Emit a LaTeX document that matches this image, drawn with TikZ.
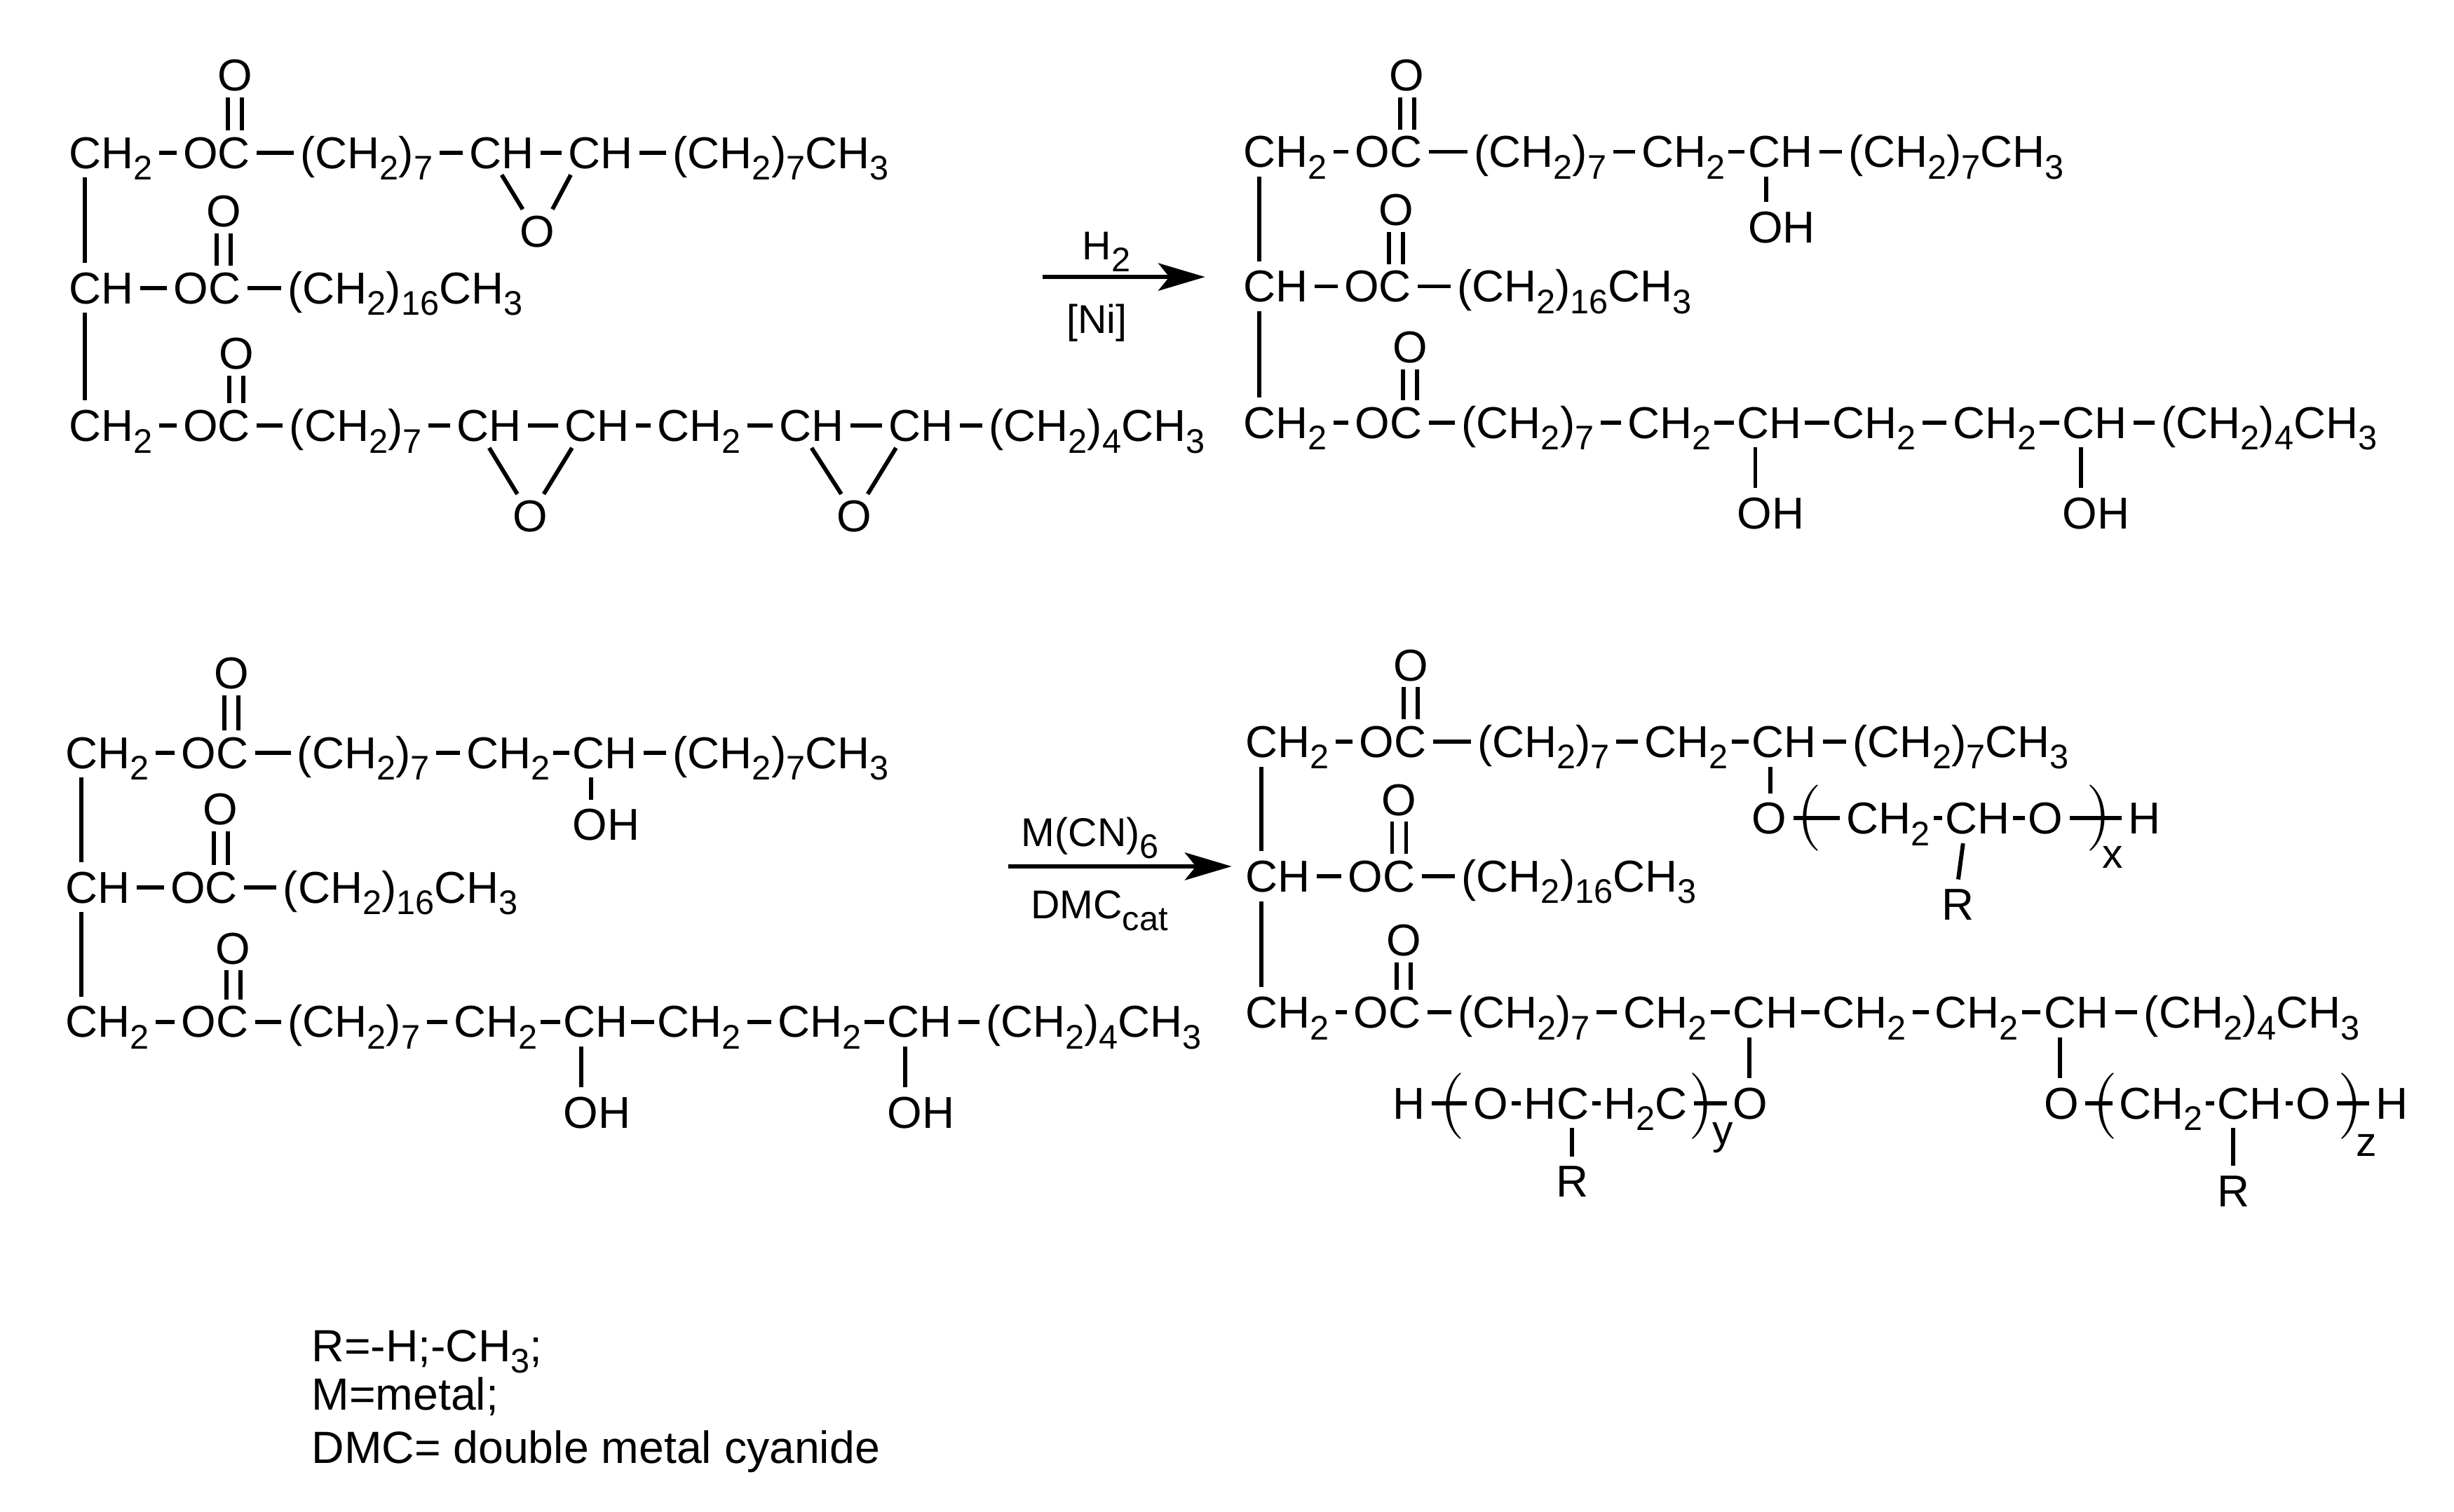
\documentclass[tikz,border=0pt]{standalone}
\usepackage{fontspec}
\setmainfont{Liberation Sans}
\usepackage{tikz}
\usetikzlibrary{arrows.meta}
\newcommand{\subn}[1]{\raisebox{-2.1pt}{\fontsize{6.2pt}{6.5pt}\selectfont #1}}
\tikzset{
    grp/.style={anchor=west, xshift=-1.5pt, inner sep=1pt, text height=5.7pt, text depth=0pt, font=\fontsize{8.12pt}{9.6pt}\selectfont},
    atm/.style={anchor=center, inner sep=1pt, text height=5.7pt, text depth=0pt, font=\fontsize{8.12pt}{9.6pt}\selectfont},
    lgd/.style={anchor=west, inner sep=0pt, text height=5.7pt, text depth=0pt, font=\fontsize{8.2pt}{9.6pt}\selectfont},
    subl/.style={anchor=center, inner sep=0pt, font=\fontsize{7.5pt}{9pt}\selectfont},
    paren/.style={anchor=center, inner sep=0pt, font=\fontsize{12pt}{14pt}\selectfont},
    reag/.style={anchor=west, inner sep=0pt, text height=5.2pt, text depth=0pt, font=\fontsize{7.3pt}{9pt}\selectfont},
    bond/.style={line width=0.75pt},
    hyph/.style={line width=0.75pt, shorten <=-0.6pt, shorten >=-0.6pt},
    vbond/.style={line width=0.75pt, shorten <=0.5pt, shorten >=0.5pt},
    dbond/.style={line width=0.75pt, double, double distance=1.8pt},
    rarrow/.style={line width=0.85pt, -{Stealth[length=8.5pt, width=5pt, inset=2pt]}},
}
\begin{document}
\begin{tikzpicture}[x=0.01cm, y=-0.01cm]
    \useasboundingbox (0, 0) rectangle (1568, 966);

    \node[grp] at (45, 97.5)  (a11) {CH\subn{2}};
    \node[grp] at (118, 97.5) (a12) {OC};
    \node[grp] at (193, 97.5) (a13) {(CH\subn{2})\subn{7}};
    \node[grp] at (301, 97.5) (a14) {CH};
    \node[grp] at (364, 97.5) (a15) {CH};
    \node[grp] at (431, 97.5) (a16) {(CH\subn{2})\subn{7}CH\subn{3}};
    \node[atm] at (150, 48)   (a1o) {O};
    \node[atm] at (343.5, 148) (a1p) {O};
    \node[grp] at (45, 184)   (a21) {CH};
    \node[grp] at (112, 184)  (a22) {OC};
    \node[grp] at (185, 184)  (a23) {(CH\subn{2})\subn{16}CH\subn{3}};
    \node[atm] at (143, 135)  (a2o) {O};
    \node[grp] at (45, 272)   (a31) {CH\subn{2}};
    \node[grp] at (118, 272)  (a32) {OC};
    \node[grp] at (186, 272)  (a33) {(CH\subn{2})\subn{7}};
    \node[grp] at (293, 272)  (a34) {CH};
    \node[grp] at (362, 272)  (a35) {CH};
    \node[grp] at (421, 272)  (a36) {CH\subn{2}};
    \node[grp] at (499, 272)  (a37) {CH};
    \node[grp] at (569, 272)  (a38) {CH};
    \node[grp] at (633, 272)  (a39) {(CH\subn{2})\subn{4}CH\subn{3}};
    \node[atm] at (151, 226)  (a3o) {O};
    \node[atm] at (339, 330)  (a3p) {O};
    \node[atm] at (546, 330)  (a3q) {O};

    \draw[bond] (a11) -- (a12);
    \draw[bond] (a12) -- (a13);
    \draw[bond] (a13) -- (a14);
    \draw[bond] (a14) -- (a15);
    \draw[bond] (a15) -- (a16);
    \draw[dbond] (a1o.south) -- (a1o.south |- a12.north);
    \draw[bond] (a14.south) -- ([xshift=-2.7pt]a1p.north);
    \draw[bond] ([xshift=1.7pt]a15.south west) -- ([xshift=2.7pt]a1p.north);
    \draw[bond] (a21) -- (a22);
    \draw[bond] (a22) -- (a23);
    \draw[dbond] (a2o.south) -- (a2o.south |- a22.north);
    \draw[bond] (a31) -- (a32);
    \draw[bond] (a32) -- (a33);
    \draw[bond] (a33) -- (a34);
    \draw[bond] (a34) -- (a35);
    \draw[bond] (a35) -- (a36);
    \draw[bond] (a36) -- (a37);
    \draw[bond] (a37) -- (a38);
    \draw[bond] (a38) -- (a39);
    \draw[dbond] (a3o.south) -- (a3o.south |- a32.north);
    \draw[bond] (a34.south) -- ([xshift=-2.4pt]a3p.north);
    \draw[bond] ([xshift=2.5pt]a35.south west) -- ([xshift=2.4pt]a3p.north);
    \draw[bond] (a37.south) -- ([xshift=-2.4pt]a3q.north);
    \draw[bond] ([xshift=2.5pt]a38.south west) -- ([xshift=2.4pt]a3q.north);
    \draw[vbond] ([xshift=4.1pt]a11.south west) -- ([xshift=4.1pt]a21.north west);
    \draw[vbond] ([xshift=4.1pt]a21.south west) -- ([xshift=4.1pt]a31.north west);

    \node[grp] at (795.5, 97)   (b11) {CH\subn{2}};
    \node[grp] at (867, 97)   (b12) {OC};
    \node[grp] at (943, 97)   (b13) {(CH\subn{2})\subn{7}};
    \node[grp] at (1050, 97)  (b14) {CH\subn{2}};
    \node[grp] at (1118, 97)  (b15) {CH};
    \node[grp] at (1182, 97)  (b16) {(CH\subn{2})\subn{7}CH\subn{3}};
    \node[atm] at (899, 48)   (b1o) {O};
    \node[grp] at (1118, 145) (b1h) {OH};
    \node[grp] at (795.5, 183)  (b21) {CH};
    \node[grp] at (860, 183)  (b22) {OC};
    \node[grp] at (932, 183)  (b23) {(CH\subn{2})\subn{16}CH\subn{3}};
    \node[atm] at (892, 134)  (b2o) {O};
    \node[grp] at (795.5, 270)  (b31) {CH\subn{2}};
    \node[grp] at (867, 270)  (b32) {OC};
    \node[grp] at (935, 270)  (b33) {(CH\subn{2})\subn{7}};
    \node[grp] at (1041, 270) (b34) {CH\subn{2}};
    \node[grp] at (1111, 270) (b35) {CH};
    \node[grp] at (1172, 270) (b36) {CH\subn{2}};
    \node[grp] at (1249, 270) (b37) {CH\subn{2}};
    \node[grp] at (1319, 270) (b38) {CH};
    \node[grp] at (1382, 270) (b39) {(CH\subn{2})\subn{4}CH\subn{3}};
    \node[atm] at (901, 222)  (b3o) {O};
    \node[grp] at (1111, 328) (b3h) {OH};
    \node[grp] at (1319, 328) (b3i) {OH};

    \draw[bond] (b11) -- (b12);
    \draw[bond] (b12) -- (b13);
    \draw[bond] (b13) -- (b14);
    \draw[hyph] (b14) -- (b15);
    \draw[bond] (b15) -- (b16);
    \draw[dbond] (b1o.south) -- (b1o.south |- b12.north);
    \draw[vbond] ([xshift=4.5pt]b15.south west) -- ([xshift=4.5pt]b1h.north west);
    \draw[bond] (b21) -- (b22);
    \draw[bond] (b22) -- (b23);
    \draw[dbond] (b2o.south) -- (b2o.south |- b22.north);
    \draw[bond] (b31) -- (b32);
    \draw[bond] (b32) -- (b33);
    \draw[bond] (b33) -- (b34);
    \draw[hyph] (b34) -- (b35);
    \draw[hyph] (b35) -- (b36);
    \draw[bond] (b36) -- (b37);
    \draw[hyph] (b37) -- (b38);
    \draw[bond] (b38) -- (b39);
    \draw[dbond] (b3o.south) -- (b3o.south |- b32.north);
    \draw[vbond] ([xshift=4.5pt]b35.south west) -- ([xshift=4.5pt]b3h.north west);
    \draw[vbond] ([xshift=4.5pt]b38.south west) -- ([xshift=4.5pt]b3i.north west);
    \draw[vbond] ([xshift=4.1pt]b11.south west) -- ([xshift=4.1pt]b21.north west);
    \draw[vbond] ([xshift=4.1pt]b21.south west) -- ([xshift=4.1pt]b31.north west);

    \node[grp] at (43, 481)   (c11) {CH\subn{2}};
    \node[grp] at (117, 481)  (c12) {OC};
    \node[grp] at (191, 481)  (c13) {(CH\subn{2})\subn{7}};
    \node[grp] at (299, 481)  (c14) {CH\subn{2}};
    \node[grp] at (367, 481)  (c15) {CH};
    \node[grp] at (431, 481)  (c16) {(CH\subn{2})\subn{7}CH\subn{3}};
    \node[atm] at (148, 430)  (c1o) {O};
    \node[grp] at (367, 527)  (c1h) {OH};
    \node[grp] at (43, 567)   (c21) {CH};
    \node[grp] at (110, 567)  (c22) {OC};
    \node[grp] at (182, 567)  (c23) {(CH\subn{2})\subn{16}CH\subn{3}};
    \node[atm] at (141, 517)  (c2o) {O};
    \node[grp] at (43, 653)   (c31) {CH\subn{2}};
    \node[grp] at (117, 653)  (c32) {OC};
    \node[grp] at (185, 653)  (c33) {(CH\subn{2})\subn{7}};
    \node[grp] at (291, 653)  (c34) {CH\subn{2}};
    \node[grp] at (361, 653)  (c35) {CH};
    \node[grp] at (421, 653)  (c36) {CH\subn{2}};
    \node[grp] at (498, 653)  (c37) {CH\subn{2}};
    \node[grp] at (568, 653)  (c38) {CH};
    \node[grp] at (631, 653)  (c39) {(CH\subn{2})\subn{4}CH\subn{3}};
    \node[atm] at (149, 606)  (c3o) {O};
    \node[grp] at (361, 711)  (c3h) {OH};
    \node[grp] at (568, 711)  (c3i) {OH};

    \draw[bond] (c11) -- (c12);
    \draw[bond] (c12) -- (c13);
    \draw[bond] (c13) -- (c14);
    \draw[hyph] (c14) -- (c15);
    \draw[bond] (c15) -- (c16);
    \draw[dbond] (c1o.south) -- (c1o.south |- c12.north);
    \draw[vbond] ([xshift=4.5pt]c15.south west) -- ([xshift=4.5pt]c1h.north west);
    \draw[bond] (c21) -- (c22);
    \draw[bond] (c22) -- (c23);
    \draw[dbond] (c2o.south) -- (c2o.south |- c22.north);
    \draw[bond] (c31) -- (c32);
    \draw[bond] (c32) -- (c33);
    \draw[bond] (c33) -- (c34);
    \draw[hyph] (c34) -- (c35);
    \draw[hyph] (c35) -- (c36);
    \draw[bond] (c36) -- (c37);
    \draw[hyph] (c37) -- (c38);
    \draw[bond] (c38) -- (c39);
    \draw[dbond] (c3o.south) -- (c3o.south |- c32.north);
    \draw[vbond] ([xshift=4.5pt]c35.south west) -- ([xshift=4.5pt]c3h.north west);
    \draw[vbond] ([xshift=4.5pt]c38.south west) -- ([xshift=4.5pt]c3i.north west);
    \draw[vbond] ([xshift=4.1pt]c11.south west) -- ([xshift=4.1pt]c21.north west);
    \draw[vbond] ([xshift=4.1pt]c21.south west) -- ([xshift=4.1pt]c31.north west);

    \node[grp] at (797, 474)   (d11) {CH\subn{2}};
    \node[grp] at (869.5, 474) (d12) {OC};
    \node[grp] at (945, 474)   (d13) {(CH\subn{2})\subn{7}};
    \node[grp] at (1052, 474)  (d14) {CH\subn{2}};
    \node[grp] at (1120.5, 474) (d15) {CH};
    \node[grp] at (1185, 474)  (d16) {(CH\subn{2})\subn{7}CH\subn{3}};
    \node[atm] at (901.5, 425) (d1o) {O};
    \node[grp] at (1120.5, 523) (d1a) {O};
    \node[paren] at (1156, 523) (d1l) {$($};
    \node[grp] at (1181, 523)  (d1b) {CH\subn{2}};
    \node[grp] at (1244, 523)  (d1c) {CH};
    \node[grp] at (1297, 523)  (d1d) {O};
    \node[paren] at (1341, 523) (d1r) {$)$};
    \node[subl] at (1350, 548) (d1x) {x};
    \node[grp] at (1361, 523)  (d1e) {H};
    \node[atm] at (1251, 578)  (d1f) {R};
    \node[grp] at (797, 560)   (d21) {CH};
    \node[grp] at (862.5, 560) (d22) {OC};
    \node[grp] at (935, 560)   (d23) {(CH\subn{2})\subn{16}CH\subn{3}};
    \node[atm] at (894, 511)   (d2o) {O};
    \node[grp] at (797, 647)   (d31) {CH\subn{2}};
    \node[grp] at (866, 647)   (d32) {OC};
    \node[grp] at (932.5, 647) (d33) {(CH\subn{2})\subn{7}};
    \node[grp] at (1038.5, 647) (d34) {CH\subn{2}};
    \node[grp] at (1108.5, 647) (d35) {CH};
    \node[grp] at (1165.5, 647) (d36) {CH\subn{2}};
    \node[grp] at (1237.5, 647) (d37) {CH\subn{2}};
    \node[grp] at (1307, 647)  (d38) {CH};
    \node[grp] at (1371, 647)  (d39) {(CH\subn{2})\subn{4}CH\subn{3}};
    \node[atm] at (897, 601)   (d3o) {O};
    \node[grp] at (1108.5, 705) (d3a) {O};
    \node[paren] at (1087, 707) (d3r) {$)$};
    \node[subl] at (1101, 727) (d3y) {y};
    \node[grp] at (1026, 705)  (d3b) {H\subn{2}C};
    \node[grp] at (975, 705)   (d3c) {HC};
    \node[grp] at (942.5, 705) (d3d) {O};
    \node[paren] at (928, 707) (d3l) {$($};
    \node[grp] at (891, 705)   (d3e) {H};
    \node[atm] at (1004.5, 755) (d3f) {R};
    \node[grp] at (1307, 705)  (d3g) {O};
    \node[paren] at (1345, 707) (d3m) {$($};
    \node[grp] at (1355, 705)  (d3i) {CH\subn{2}};
    \node[grp] at (1418, 705)  (d3j) {CH};
    \node[grp] at (1468, 705)  (d3k) {O};
    \node[paren] at (1502, 707) (d3n) {$)$};
    \node[subl] at (1512, 732) (d3z) {z};
    \node[grp] at (1519, 705)  (d3h) {H};
    \node[atm] at (1427, 761)  (d3s) {R};

    \draw[bond] (d11) -- (d12);
    \draw[bond] (d12) -- (d13);
    \draw[bond] (d13) -- (d14);
    \draw[hyph] (d14) -- (d15);
    \draw[bond] (d15) -- (d16);
    \draw[dbond] (d1o.south) -- (d1o.south |- d12.north);
    \draw[vbond] ([xshift=4.5pt]d15.south west) -- ([xshift=4.5pt]d1a.north west);
    \draw[bond] (d1a) -- (d1b);
    \draw[hyph] (d1b) -- (d1c);
    \draw[hyph] (d1c) -- (d1d);
    \draw[bond] (d1d) -- (d1e);
    \draw[vbond] ([xshift=4.5pt]d1c.south west) -- (d1f.north);
    \draw[bond] (d21) -- (d22);
    \draw[bond] (d22) -- (d23);
    \draw[dbond] (d2o.south) -- (d2o.south |- d22.north);
    \draw[bond] (d31) -- (d32);
    \draw[bond] (d32) -- (d33);
    \draw[bond] (d33) -- (d34);
    \draw[hyph] (d34) -- (d35);
    \draw[hyph] (d35) -- (d36);
    \draw[bond] (d36) -- (d37);
    \draw[hyph] (d37) -- (d38);
    \draw[bond] (d38) -- (d39);
    \draw[dbond] (d3o.south) -- (d3o.south |- d32.north);
    \draw[vbond] ([xshift=4.1pt]d35.south west) -- ([xshift=4.1pt]d3a.north west);
    \draw[vbond] ([xshift=4.1pt]d38.south west) -- ([xshift=4.1pt]d3g.north west);
    \draw[bond] (d3a) -- (d3b);
    \draw[hyph] (d3b) -- (d3c);
    \draw[hyph] (d3c) -- (d3d);
    \draw[bond] (d3d) -- (d3e);
    \draw[vbond] (d3f.north |- d3c.south) -- (d3f.north);
    \draw[bond] (d3g) -- (d3i);
    \draw[hyph] (d3i) -- (d3j);
    \draw[hyph] (d3j) -- (d3k);
    \draw[bond] (d3k) -- (d3h);
    \draw[vbond] (d3s.north |- d3j.south) -- (d3s.north);
    \draw[vbond] ([xshift=4.1pt]d11.south west) -- ([xshift=4.1pt]d21.north west);
    \draw[vbond] ([xshift=4.1pt]d21.south west) -- ([xshift=4.1pt]d31.north west);

    \coordinate (p1) at (666, 177);
    \coordinate (p2) at (770, 177);
    \draw[rarrow] (p1) -- (p2);
    \node[reag] at (691, 157) (r1) {H\subn{2}};
    \node[reag] at (681, 204) (r2) {[Ni]};
    \coordinate (p3) at (644, 553.7);
    \coordinate (p4) at (787, 553.7);
    \draw[rarrow] (p3) -- (p4);
    \node[reag] at (652, 532) (r3) {M(CN)\subn{6}};
    \node[reag] at (658, 578) (r4) {DMC\subn{cat}};

    \node[lgd] at (198.5, 860) (l1) {R=-H;-CH\subn{3};};
    \node[lgd] at (198.5, 891) (l2) {M=metal;};
    \node[lgd] at (198.5, 925) (l3) {DMC= double metal cyanide};
\end{tikzpicture}
\end{document}
